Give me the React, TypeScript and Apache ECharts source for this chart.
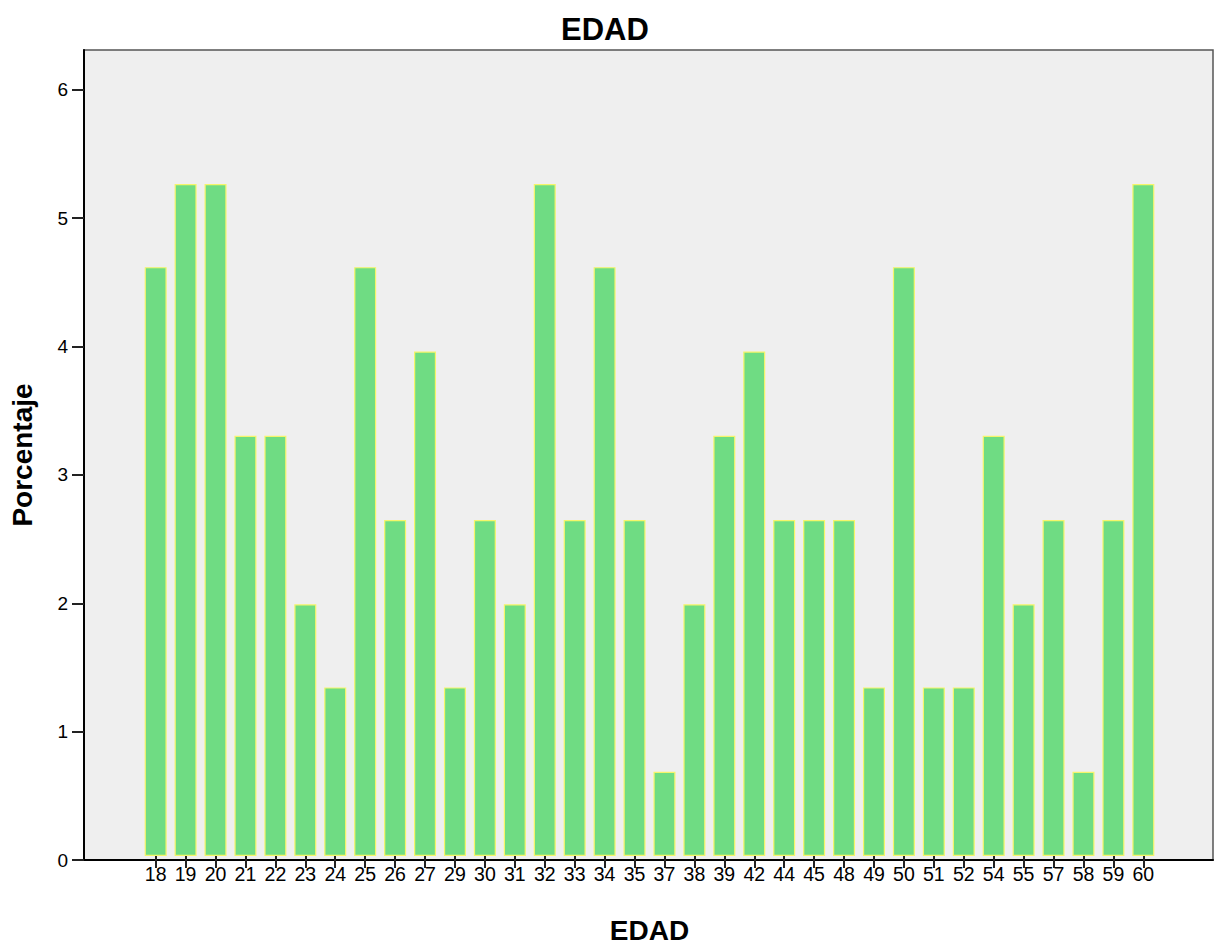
import React, { useEffect, useRef } from "react";
import * as echarts from "echarts";

const ages = ["18","19","20","21","22","23","24","25","26","27","29","30","31","32","33","34","35","37","38","39","42","44","45","48","49","50","51","52","54","55","57","58","59","60"];
const percentages = [4.61,5.26,5.26,3.29,3.29,1.97,1.32,4.61,2.63,3.95,1.32,2.63,1.97,5.26,2.63,4.61,2.63,0.66,1.97,3.29,3.95,2.63,2.63,2.63,1.32,4.61,1.32,1.32,3.29,1.97,2.63,0.66,2.63,5.26];
const yTicks = [0, 1, 2, 3, 4, 5, 6];
const yMax = 6.31;

const FONT = "'Liberation Sans', Arial, sans-serif";

export default function App() {
  const ref = useRef<HTMLDivElement>(null);
  useEffect(() => {
    if (!ref.current) return;
    const chart = echarts.init(ref.current, null, { renderer: "svg" });
    chart.setOption({
      animation: false,
      backgroundColor: "#ffffff",
      title: {
        text: "EDAD",
        left: 556,
        top: 9,
        textStyle: { fontFamily: FONT, fontSize: 31, fontWeight: "bold", color: "#000" },
      },
      grid: [
        { left: 84, right: 8, top: 50, bottom: 89, show: true, backgroundColor: "#efefef", borderColor: "#555", borderWidth: 1.5, containLabel: false },
        { left: 140.7, right: 62.7, top: 50, bottom: 89, containLabel: false },
      ],
      xAxis: [
        {
          type: "value", gridIndex: 0, min: 0, max: 1,
          axisLine: { show: true, lineStyle: { color: "#000", width: 2 } },
          axisTick: { show: false }, axisLabel: { show: false }, splitLine: { show: false },
        },
        {
          type: "category", gridIndex: 1, data: ages,
          axisLine: { show: false },
          axisTick: { show: true, alignWithLabel: true, length: 12, lineStyle: { color: "#222", width: 2 } },
          axisLabel: { color: "#000", fontFamily: FONT, fontSize: 19.5, margin: 8, interval: 0 },
          name: "EDAD", nameLocation: "middle", nameGap: 60,
          nameTextStyle: { fontFamily: FONT, fontSize: 28, fontWeight: "bold", color: "#000" },
        },
      ],
      yAxis: [
        {
          type: "value", gridIndex: 0, min: 0, max: yMax, interval: 1,
          axisLine: { show: true, lineStyle: { color: "#000", width: 2 } },
          axisTick: { show: true, length: 12, customValues: yTicks, lineStyle: { color: "#222", width: 2 } },
          axisLabel: {
            color: "#000", fontFamily: FONT, fontSize: 19, margin: 16, showMaxLabel: false,
            formatter: (v: number) => (Number.isInteger(v) ? String(v) : ""),
          },
          splitLine: { show: false },
          name: "Porcentaje", nameLocation: "middle", nameGap: 48,
          nameTextStyle: { fontFamily: FONT, fontSize: 28, fontWeight: "bold", color: "#000" },
        },
        {
          type: "value", gridIndex: 1, min: 0, max: yMax, show: false,
        },
      ],
      series: [
        {
          type: "bar", xAxisIndex: 1, yAxisIndex: 1, data: percentages,
          barWidth: 22,
          itemStyle: { color: "#6fdc83", borderColor: "#f5f56a", borderWidth: 1.2 },
        },
      ],
    });
    return () => chart.dispose();
  }, []);
  return <div ref={ref} style={{ position: "absolute", left: 0, top: 0, width: 1221, height: 949 }} />;
}
